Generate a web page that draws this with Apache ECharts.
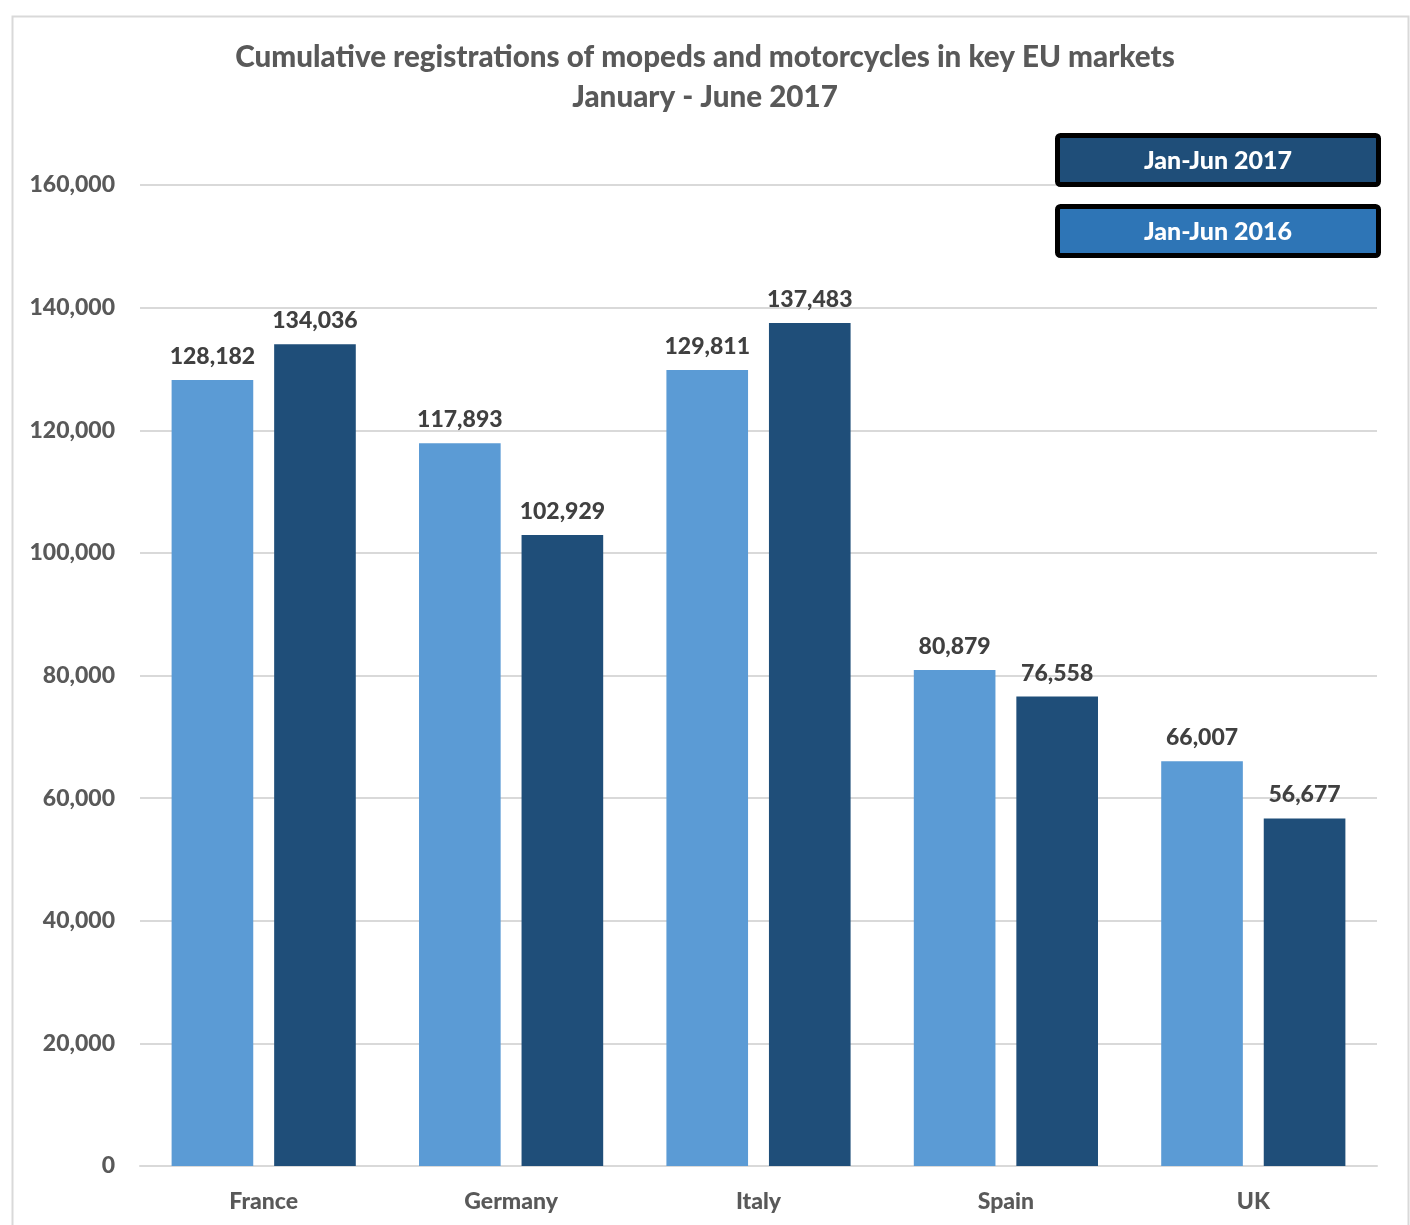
<!DOCTYPE html>
<html><head><meta charset="utf-8">
<script src="https://cdn.jsdelivr.net/npm/echarts@6/dist/echarts.min.js"></script>
<style>html,body{margin:0;padding:0;background:#fff}#c{width:1410px;height:1225px}</style>
</head><body><div id="c"></div>
<script>
const categories = ['France', 'Germany', 'Italy', 'Spain', 'UK'];
const values2016 = [128182, 117893, 129811, 80879, 66007];
const values2017 = [134036, 102929, 137483, 76558, 56677];
const seriesNames = ['Jan-Jun 2016', 'Jan-Jun 2017'];
const titleLines = ['Cumulative registrations of mopeds and motorcycles in key EU markets', 'January - June 2017'];

const FONT = 'Lato, "Open Sans", sans-serif';
const W = 900;
const chart = echarts.init(document.getElementById('c'));
const fmt = v => v.toLocaleString('en-US');
const labelStyle = {show: true, position: 'top', distance: 12, formatter: p => fmt(p.value),
  fontFamily: FONT, fontWeight: W, fontSize: 23, color: '#404040'};

chart.setOption({
  animation: false,
  backgroundColor: '#fff',
  title: {text: titleLines.join('\n'), left: 'center', top: 32,
    textStyle: {fontFamily: FONT, fontWeight: W, fontSize: 29.6, color: '#595959', lineHeight: 40}},
  grid: {left: 140, right: 33, top: 185, bottom: 59, containLabel: false},
  xAxis: {type: 'category', data: categories,
    axisLine: {lineStyle: {color: '#D9D9D9', width: 2}}, axisTick: {show: false},
    axisLabel: {margin: 24, fontFamily: FONT, fontWeight: W, fontSize: 23, color: '#595959'}},
  yAxis: {type: 'value', min: 0, max: 160000, interval: 20000,
    axisLine: {show: false}, axisTick: {show: false},
    splitLine: {lineStyle: {color: '#D9D9D9', width: 2}},
    axisLabel: {margin: 25, formatter: v => fmt(v), fontFamily: FONT, fontWeight: W, fontSize: 23, color: '#595959'}},
  series: [
    {name: seriesNames[0], type: 'bar', data: values2016, barWidth: '33%', barGap: '25.6%',
      itemStyle: {color: '#5B9BD5'}, label: labelStyle},
    {name: seriesNames[1], type: 'bar', data: values2017, barWidth: '33%',
      itemStyle: {color: '#1F4E79'}, label: labelStyle}
  ],
  graphic: [
    {type: 'rect', left: 10, top: 14, z: 100, shape: {width: 1396, height: 1230},
      style: {fill: 'none', stroke: '#D9D9D9', lineWidth: 2}, silent: true},
    {type: 'group', left: 1055, top: 133, z: 100, children: [
      {type: 'rect', z: 100, shape: {x: 2.5, y: 2.5, width: 321, height: 49, r: 3},
        style: {fill: '#1F4E79', stroke: '#000', lineWidth: 5}},
      {type: 'text', z: 101, x: 163, y: 28, style: {text: seriesNames[1], align: 'center', verticalAlign: 'middle',
        fill: '#fff', fontFamily: FONT, fontWeight: W, fontSize: 25}}
    ]},
    {type: 'group', left: 1055, top: 204, z: 100, children: [
      {type: 'rect', z: 100, shape: {x: 2.5, y: 2.5, width: 321, height: 49, r: 3},
        style: {fill: '#2E75B6', stroke: '#000', lineWidth: 5}},
      {type: 'text', z: 101, x: 163, y: 28, style: {text: seriesNames[0], align: 'center', verticalAlign: 'middle',
        fill: '#fff', fontFamily: FONT, fontWeight: W, fontSize: 25}}
    ]}
  ]
});
</script></body></html>
